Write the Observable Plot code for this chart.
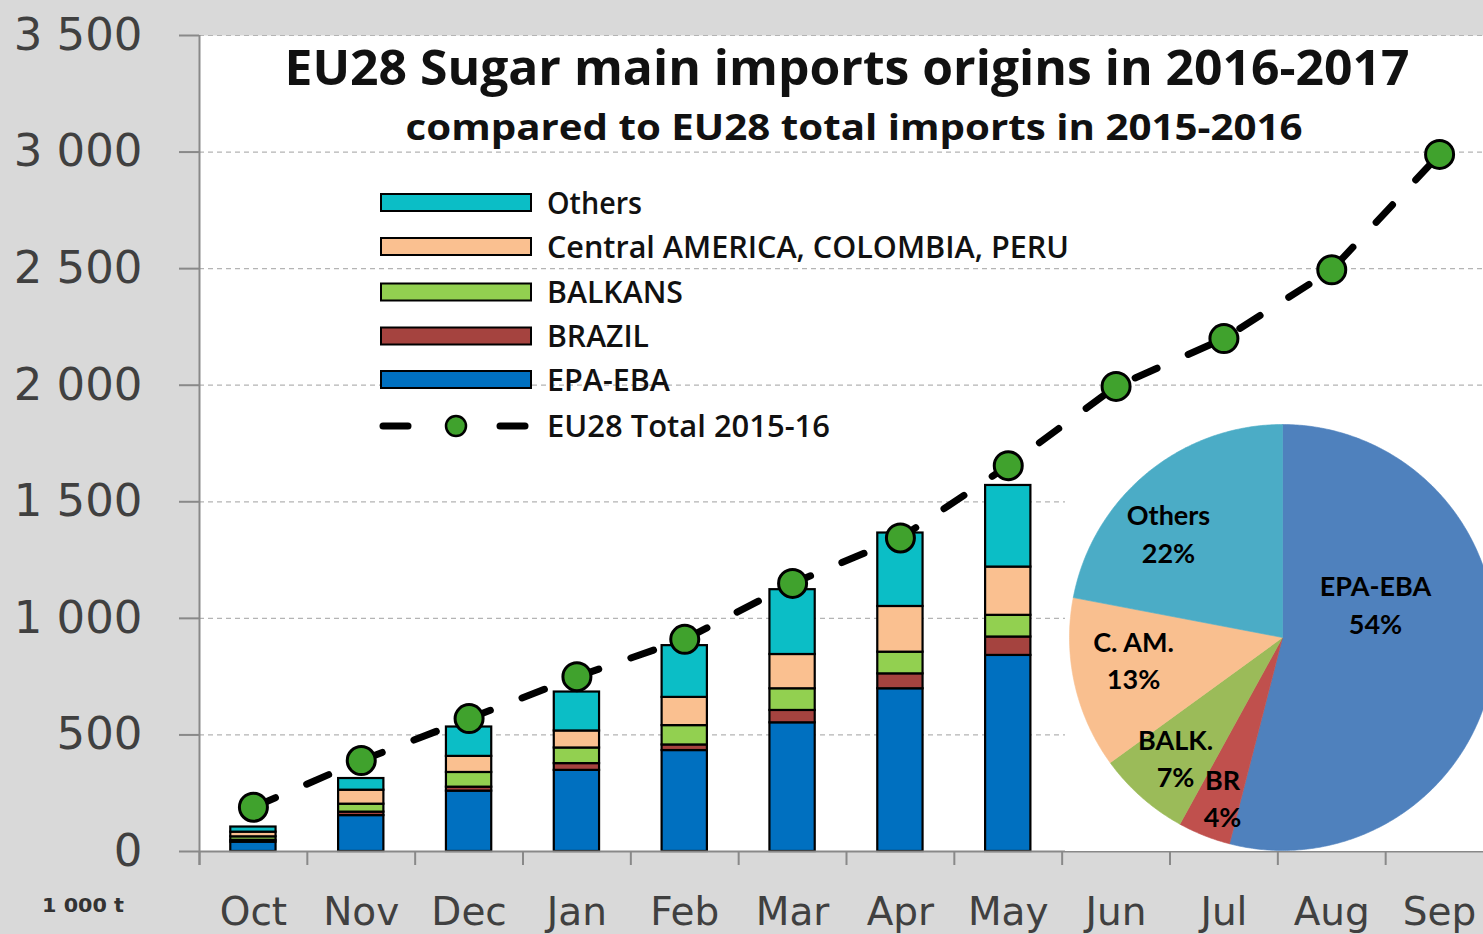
<!DOCTYPE html>
<html>
<head>
<meta charset="utf-8">
<script src="https://cdn.jsdelivr.net/npm/d3@7"></script>
<script src="https://cdn.jsdelivr.net/npm/@observablehq/plot@0.6"></script>
<style>
html, body { margin: 0; padding: 0; background: #d9d9d9; overflow: hidden; }
#wrap { position: relative; width: 1483px; height: 934px; overflow: hidden; background: #d9d9d9; }
#wrap svg { max-width: none !important; }
#main { position: absolute; left: 0; top: 0; }
#pie { position: absolute; left: 1065px; top: 422px; width: 418px; height: 429px; background: #fff; overflow: hidden; }
#pie > svg { position: absolute; left: 0; top: -2px; background: transparent !important; }
#overlay { position: absolute; left: 0; top: 0; pointer-events: none; }
</style>
</head>
<body>
<div id="wrap">
  <div id="main"></div>
  <div id="pie"></div>
  <svg id="overlay" width="1483" height="934"></svg>
</div>
<script>
// ---------- DATA ----------
const months = ["Oct", "Nov", "Dec", "Jan", "Feb", "Mar", "Apr", "May", "Jun", "Jul", "Aug", "Sep"];
const barMonths = ["Oct", "Nov", "Dec", "Jan", "Feb", "Mar", "Apr", "May"];
const seriesNames = ["EPA-EBA", "BRAZIL", "BALKANS", "Central AMERICA, COLOMBIA, PERU", "Others"];
const epaEba         = [40, 154, 259, 348, 433, 552, 698, 841];
const brazil         = [8, 15, 17, 29, 24, 53, 64, 79];
const balkans        = [15, 34, 63, 67, 83, 93, 93, 93];
const centralAmerica = [20, 60, 69, 73, 121, 147, 196, 207];
const others         = [22, 50, 126, 167, 222, 278, 315, 350];
const total201516    = [190, 390, 570, 750, 910, 1150, 1345, 1655, 1995, 2200, 2495, 2990];
const totalName = "EU28 Total 2015-16";
const yTicks = [0, 500, 1000, 1500, 2000, 2500, 3000, 3500];
const pieNames  = ["EPA-EBA", "BR", "BALK.", "C. AM.", "Others"];
const pieShares = [54, 4, 7, 13, 22];
const titleText = "EU28 Sugar main imports origins in 2016-2017";
const subtitleText = "compared to EU28 total imports in 2015-2016";
const unitText = "1 000 t";

// ---------- STYLE ----------
const barColors = ["#0070c0", "#a5433f", "#92d050", "#fac090", "#0bbec6"];
const pieColors = ["#4f81bd", "#c0504d", "#9bbb59", "#f9bf8f", "#4bacc6"];
const dotColor = "#40a22d";
const axisGray = "#898989";
const textGray = "#404040";

// ---------- BUILD TABLES ----------
const seriesValues = [epaEba, brazil, balkans, centralAmerica, others];
const barData = [];
seriesNames.forEach((s, i) => barMonths.forEach((m, j) => barData.push({month: m, series: s, value: seriesValues[i][j]})));
const lineData = months.map((m, i) => ({month: m, value: total201516[i]}));

// ---------- MAIN CHART ----------
const W = 1495, H = 934, ML = 199, MR = 2, MT = 35, MB = 83;
const step = (W - ML - MR) / months.length;
const fmt = d => d3.format(",")(d).replace(/,/g, " ");

const chart = Plot.plot({
  width: W, height: H,
  marginLeft: ML, marginRight: MR, marginTop: MT, marginBottom: MB,
  style: {background: "transparent", fontFamily: "DejaVu Sans", overflow: "visible"},
  x: {domain: months, paddingInner: 0.58, paddingOuter: 0.29, round: false, label: null},
  y: {domain: [0, 3500], label: null},
  color: {domain: seriesNames, range: barColors},
  marks: [
    Plot.frame({fill: "white", stroke: null}),
    Plot.ruleY(yTicks.slice(1), {stroke: "#b4b4b4", strokeWidth: 1.2, strokeDasharray: "5,4"}),
    Plot.barY(barData, {x: "month", y: "value", fill: "series", stroke: "#000", strokeWidth: 2.2}),
    Plot.line(lineData, {x: "month", y: "value", stroke: "#000", strokeWidth: 7, strokeDasharray: "24,34", strokeLinecap: "round"}),
    Plot.dot(lineData, {x: "month", y: "value", r: 14, fill: dotColor, stroke: "#000", strokeWidth: 3}),
    Plot.ruleY([0], {stroke: axisGray, strokeWidth: 2}),
    Plot.ruleX(months, {x: d => d, dx: -step / 2, y1: 0, y2: -60, stroke: axisGray, strokeWidth: 2}),
    Plot.ruleX([months[0]], {x: d => d, dx: -step / 2, y1: -60, y2: 3500, stroke: axisGray, strokeWidth: 2}),
    Plot.axisY({ticks: yTicks, tickFormat: fmt, tickSize: 20, tickPadding: 37, fontSize: 45,
                stroke: axisGray, strokeWidth: 2, fill: textGray}),
    Plot.axisX({tickSize: 0, tickPadding: 46, fontSize: 39, fill: textGray})
  ]
});
document.getElementById("main").appendChild(chart);

// ---------- PIE ----------
const arcs = d3.pie().sort(null)(pieShares);
const pieVerts = [];
arcs.forEach((a, i) => {
  const n = Math.max(2, Math.ceil((a.endAngle - a.startAngle) / 0.01));
  pieVerts.push({slice: pieNames[i], px: 0, py: 0});
  for (let k = 0; k <= n; k++) {
    const t = a.startAngle + (a.endAngle - a.startAngle) * k / n;
    pieVerts.push({slice: pieNames[i], px: Math.sin(t), py: Math.cos(t)});
  }
  pieVerts.push({slice: pieNames[i], px: 0, py: 0});
});
// label placement (degrees clockwise from 12 o'clock, radius fraction)
const labelPolar = [[71.6, 0.46], [200.2, 0.815], [221, 0.765], [260.5, 0.709], [311.8, 0.718]];
const pieLabelData = pieNames.map((nm, i) => {
  const a = labelPolar[i][0] * Math.PI / 180, r = labelPolar[i][1];
  return {label: nm + "\n" + pieShares[i] + "%", px: r * Math.sin(a), py: r * Math.cos(a)};
});
const pie = Plot.plot({
  width: 434, height: 434, margin: 4,
  style: {background: "transparent", overflow: "visible"},
  x: {domain: [-1, 1], axis: null},
  y: {domain: [-1, 1], axis: null},
  color: {domain: pieNames, range: pieColors},
  marks: [
    Plot.line(pieVerts, {x: "px", y: "py", z: "slice", fill: "slice", stroke: "slice", strokeWidth: 0.6, curve: "linear"}),
    Plot.text(pieLabelData, {x: "px", y: "py", text: "label", fontSize: 27, fontWeight: "bold",
                             fontFamily: "Lato", lineHeight: 1.4, dy: -4, fill: "#000"})
  ]
});
document.getElementById("pie").appendChild(pie);

// ---------- TITLES, LEGEND, UNIT ----------
const ov = d3.select("#overlay");
ov.append("text").attr("x", 847).attr("y", 85).attr("text-anchor", "middle")
  .attr("font-family", "Open Sans").attr("font-weight", "bold").attr("font-size", 48)
  .attr("textLength", 1125).attr("lengthAdjust", "spacingAndGlyphs").attr("fill", "#111").text(titleText);
ov.append("text").attr("x", 854).attr("y", 140).attr("text-anchor", "middle")
  .attr("font-family", "Open Sans").attr("font-weight", "bold").attr("font-size", 35)
  .attr("textLength", 897).attr("lengthAdjust", "spacingAndGlyphs").attr("fill", "#111").text(subtitleText);

const legendItems = ["Others", "Central AMERICA, COLOMBIA, PERU", "BALKANS", "BRAZIL", "EPA-EBA"];
const legendRowY = [202.5, 246.5, 292, 336, 379.5, 426];
const legendTextW = [95, 522, 136, 102, 123, 283];
legendItems.forEach((nm, i) => {
  const cy = legendRowY[i];
  ov.append("rect").attr("x", 381).attr("y", cy - 8.5).attr("width", 150).attr("height", 17)
    .attr("fill", barColors[seriesNames.indexOf(nm)]).attr("stroke", "#000").attr("stroke-width", 2);
  ov.append("text").attr("x", 547).attr("y", cy + 11).attr("font-family", "Open Sans").attr("font-weight", 600).attr("font-size", 30)
    .attr("textLength", legendTextW[i]).attr("lengthAdjust", "spacingAndGlyphs").attr("fill", "#111").text(nm);
});
{
  const cy = legendRowY[5];
  ov.append("line").attr("x1", 383).attr("x2", 408).attr("y1", cy).attr("y2", cy).attr("stroke", "#000").attr("stroke-width", 7).attr("stroke-linecap", "round");
  ov.append("line").attr("x1", 500).attr("x2", 525).attr("y1", cy).attr("y2", cy).attr("stroke", "#000").attr("stroke-width", 7).attr("stroke-linecap", "round");
  ov.append("circle").attr("cx", 456).attr("cy", cy).attr("r", 10).attr("fill", dotColor).attr("stroke", "#000").attr("stroke-width", 2.5);
  ov.append("text").attr("x", 547).attr("y", cy + 11).attr("font-family", "Open Sans").attr("font-weight", 600).attr("font-size", 30)
    .attr("textLength", legendTextW[5]).attr("lengthAdjust", "spacingAndGlyphs").attr("fill", "#111").text(totalName);
}
ov.append("text").attr("x", 42).attr("y", 912).attr("font-family", "DejaVu Sans").attr("font-weight", "bold")
  .attr("font-size", 20).attr("textLength", 82).attr("lengthAdjust", "spacingAndGlyphs").attr("fill", "#333").text(unitText);
</script>
</body>
</html>
